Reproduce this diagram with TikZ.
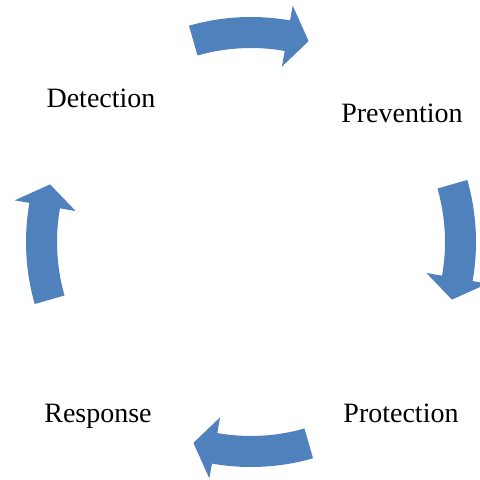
\documentclass[tikz,border=0pt]{standalone}
\usepackage{fontspec}
\setmainfont{Liberation Serif}
\usepackage{tikz}
\definecolor{cycleblue}{HTML}{4F81BD}
\tikzstyle{phase} = [font=\fontsize{28}{34}\selectfont,anchor=base,inner sep=0pt]
\tikzstyle{cyclearrow} = [fill=cycleblue,draw=none]

\begin{document}
\begin{tikzpicture}[x=1pt,y=1pt]
			      \useasboundingbox (0,0) rectangle (480,480);
			      \coordinate (c) at (251,238);

			      \node (detection)[phase] at (101,372) {Detection};
			      \node (prevention)[phase] at (402,357) {Prevention};
			      \node (protection)[phase] at (401,57) {Protection};
			      \node (response)[phase] at (98,57) {Response};

			      % four curved block arrows on one circle, running clockwise
			      \begin{scope}[shift={(c)}]
			      \foreach \a in {90,0,-90,180}
			        \path[cyclearrow] (\a+16:225) arc[start angle=\a+16,end angle=\a-10,radius=225]
			          -- (\a-10:240) -- (\a-16:209) -- (\a-10:178)
			          -- (\a-10:194) arc[start angle=\a-10,end angle=\a+16,radius=194] -- cycle;
			      \end{scope}
		      \end{tikzpicture}
\end{document}
